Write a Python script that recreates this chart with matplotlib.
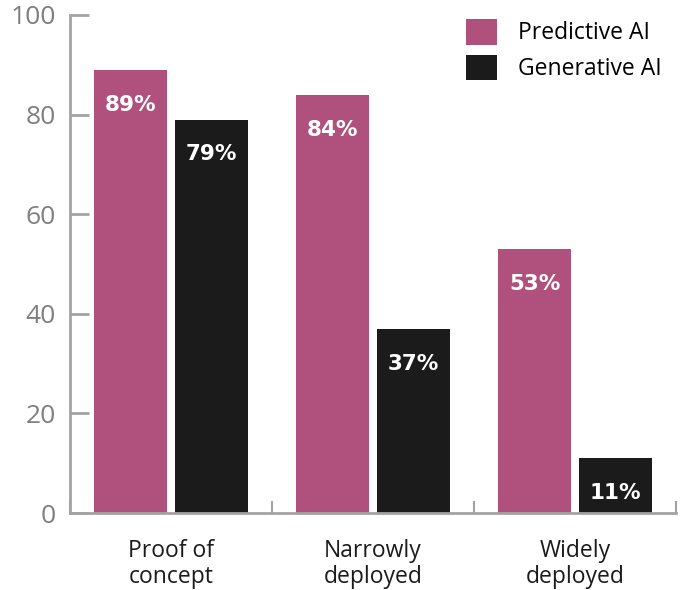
import matplotlib.pyplot as plt
import numpy as np

categories = ["Proof of\nconcept", "Narrowly\ndeployed", "Widely\ndeployed"]
predictive = [89, 84, 53]
generative = [79, 37, 11]
series_names = ["Predictive AI", "Generative AI"]

pink = "#B0517D"
dark = "#1B1B1B"
grey = "#A3A3A3"

plt.rcParams['font.family'] = ['Open Sans', 'DejaVu Sans']

fig = plt.figure(figsize=(6.88, 5.9), dpi=100)
ax = fig.add_axes([0.1017, 0.1305, 0.8809, 0.8441])

x = np.arange(len(categories))
w = 0.36
b1 = ax.bar(x - 0.2, predictive, w, color=pink, label=series_names[0])
b2 = ax.bar(x + 0.2, generative, w, color=dark, label=series_names[1])

for bars in (b1, b2):
    for r in bars:
        v = r.get_height()
        ax.text(r.get_x() + r.get_width() / 2, v - 7, f"{v:.0f}%",
                ha="center", va="center", color="white",
                fontsize=15.5, fontweight="bold", family="DejaVu Sans")

ax.set_xlim(-0.5, 2.5)
ax.set_ylim(0, 100)
ax.set_yticks([0, 20, 40, 60, 80, 100])
ax.tick_params(axis="y", direction="in", length=14, width=2, color=grey,
               labelcolor="#7F7F7F", labelsize=19, pad=10)

ax.set_xticks([-0.5, 0.5, 1.5, 2.5])
ax.set_xticklabels([])
ax.tick_params(axis="x", direction="in", length=9, width=1.5, color=grey)
ax.set_xticks(x, minor=True)
ax.set_xticklabels(categories, minor=True, fontsize=16.5, color="#1B1B1B",
                   linespacing=1.1)
ax.tick_params(axis="x", which="minor", length=0, pad=19)

for s in ["top", "right"]:
    ax.spines[s].set_visible(False)
for s in ["left", "bottom"]:
    ax.spines[s].set_color(grey)
    ax.spines[s].set_linewidth(2)

ax.legend(loc="upper right", bbox_to_anchor=(0.995, 1.015), frameon=False,
          fontsize=16.5, handlelength=1.35, handleheight=1.35,
          handletextpad=0.9, labelspacing=0.4, borderaxespad=0.1)

fig.savefig("out.png", dpi=100)
